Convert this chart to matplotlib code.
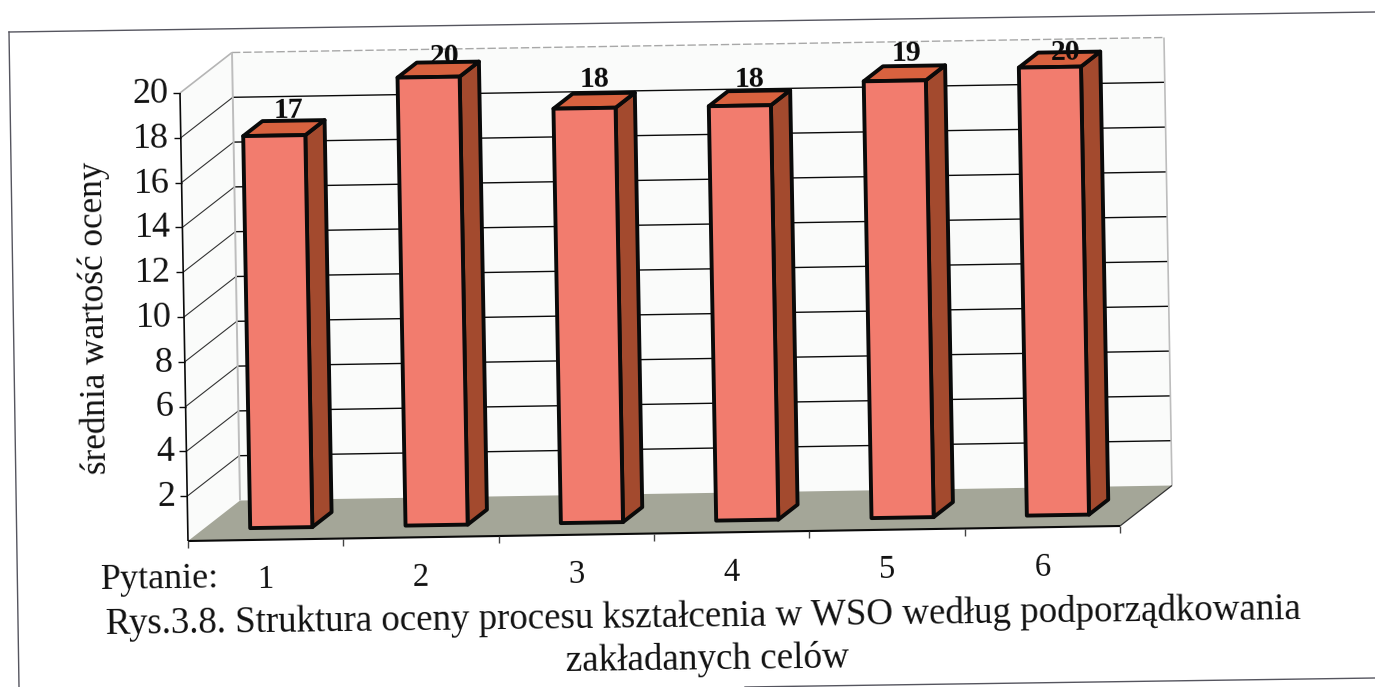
import numpy as np
import matplotlib
matplotlib.use("Agg")
import matplotlib.pyplot as plt
from matplotlib.patches import Polygon

# ---- data ----
questions = [1, 2, 3, 4, 5, 6]
bar_heights = [17.5, 20.0, 18.5, 18.5, 19.5, 20.0]
value_labels = ["17", "20", "18", "18", "19", "20"]
y_ticks = [2, 4, 6, 8, 10, 12, 14, 16, 18, 20]
y_label = "średnia wartość oceny"
x_prefix = "Pytanie:"
caption_1 = "Rys.3.8. Struktura oceny procesu kształcenia w WSO według podporządkowania"
caption_2 = "zakładanych celów"

# ---- layout: scanned 3-D projection ----
W, H = 1375, 687
ORIGIN = np.array([188.0, 541.0])
U = np.array([155.33, -2.5])   # one category
V = np.array([-0.4, -22.4])    # one value unit
D = np.array([52.0, -40.5])    # full depth
label_nudge = [(4, -17), (6, -13), (0, -21), (-1, -18), (1, -19), (5, -7)]
TILT = 0.8

FRONT = "#F27C6E"
TOP = "#D8623F"
SIDE = "#A34A2E"
FLOOR = "#A4A698"
WALL = "#FAFBFA"
INK = "#0A0A0A"
SERIF = "Liberation Serif"


def P(c, v, d=0.0):
    return ORIGIN + c * U + v * V + d * D


fig = plt.figure(figsize=(W / 100, H / 100), dpi=100, facecolor="white")
ax = fig.add_axes([0, 0, 1, 1])
ax.set_xlim(0, W)
ax.set_ylim(H, 0)
ax.axis("off")


def line(a, b, color=INK, lw=1.0, ls="-", z=3):
    ax.plot([a[0], b[0]], [a[1], b[1]], color=color, lw=lw, ls=ls, zorder=z,
            solid_capstyle="butt")


def face(pts, color, z, edge=None, lw=0):
    ax.add_patch(Polygon(pts, closed=True, facecolor=color,
                         edgecolor=edge if edge else "none", linewidth=lw,
                         joinstyle="round", zorder=z))


# page frame from the scan
ax.plot([9, W], [32, 12], color="#55555F", lw=1.0, zorder=1)
ax.plot([9, 19], [32, H], color="#55555F", lw=1.0, zorder=1)
ax.plot([745, W], [H, 678], color="#55555F", lw=1.0, zorder=1)

# walls and floor
nc = len(questions)
vmax = max(y_ticks)
face([P(0, 0, 1), P(nc, 0, 1), P(nc, vmax, 1), P(0, vmax, 1)], WALL, 2)
face([P(0, 0, 0), P(0, 0, 1), P(0, vmax, 1), P(0, vmax, 0)], WALL, 2)
face([P(0, 0, 0), P(nc, 0, 0), P(nc, 0, 1), P(0, 0, 1)], FLOOR, 3)

for t in y_ticks[:-1]:
    line(P(0, t, 1), P(nc, t, 1), lw=1.0, z=4)
    line(P(0, t, 0), P(0, t, 1), color="#333333", lw=0.8, z=4)
line(P(0, vmax, 0), P(0, vmax, 1), color="#B5B5B5", lw=1.2, z=4)
line(P(0, vmax, 1), P(nc, vmax, 1), color="#A8A8A8", lw=1.0, ls=(0, (6, 2)), z=4)
line(P(0, 0, 1), P(0, vmax, 1), color="#BDBDBD", lw=1.4, z=4)
line(P(nc, 0, 1), P(nc, vmax, 1), color="#BDBDBD", lw=1.2, z=4)
line(P(nc, 0, 0), P(nc, 0, 1), color="#333333", lw=0.9, z=4)

# axes and ticks
line(P(0, 0, 0), P(0, vmax, 0), lw=1.2, z=5)
line(P(0, 0, 0), P(nc, 0, 0), lw=1.5, z=5)
for t in y_ticks:
    a = P(0, t, 0)
    line(a, a + np.array([-7, 0]), lw=1.0, z=5)
    ax.text(a[0] - 12, a[1] + 1, str(t), family=SERIF, fontsize=26, color="#111111",
            ha="right", va="center", rotation=TILT, rotation_mode="anchor", zorder=8)
for c in range(nc + 1):
    a = P(c, 0, 0)
    line(a, a + np.array([0, 7]), color="#444444", lw=1.0, z=5)

# bars
c0, c1 = 0.30, 0.70
d0, d1 = 0.30, 0.67
for i, (q, h) in enumerate(zip(questions, bar_heights)):
    z = 6 + i * 0.01
    l, r = i + c0, i + c1
    face([P(r, 0, d0), P(r, 0, d1), P(r, h, d1), P(r, h, d0)], SIDE, z, INK, 2.8)
    face([P(l, h, d0), P(r, h, d0), P(r, h, d1), P(l, h, d1)], TOP, z, INK, 2.8)
    face([P(l, 0, d0), P(r, 0, d0), P(r, h, d0), P(l, h, d0)], FRONT, z, INK, 2.8)
    # value label
    m = P(i + 0.5, h, 0.5) + np.array(label_nudge[i], dtype=float)
    ax.text(m[0], m[1], value_labels[i], family=SERIF, fontsize=21.5, fontweight="bold",
            color="#0A0A0A", ha="center", va="center", rotation=TILT,
            rotation_mode="anchor", zorder=9)
    # category label
    a = P(i + 0.5, 0, 0)
    ax.text(a[0], a[1] + 40, str(q), family=SERIF, fontsize=23.5, color="#111111",
            ha="center", va="center", rotation=TILT, rotation_mode="anchor", zorder=8)

# titles
ax.text(95, 318, y_label, family=SERIF, fontsize=25.3, color="#111111",
        ha="center", va="center", rotation=90 + TILT, rotation_mode="anchor")
ax.text(101, 589, x_prefix, family=SERIF, fontsize=26, color="#111111",
        ha="left", va="baseline", rotation=TILT, rotation_mode="anchor")
ax.text(106, 634, caption_1, family=SERIF, fontsize=26.6, color="#111111",
        ha="left", va="baseline", rotation=0.72, rotation_mode="anchor")
ax.text(707, 660, caption_2, family=SERIF, fontsize=26.7, color="#111111",
        ha="center", va="center", rotation=0.72, rotation_mode="anchor")

fig.savefig("out.png", dpi=100, facecolor="white")
